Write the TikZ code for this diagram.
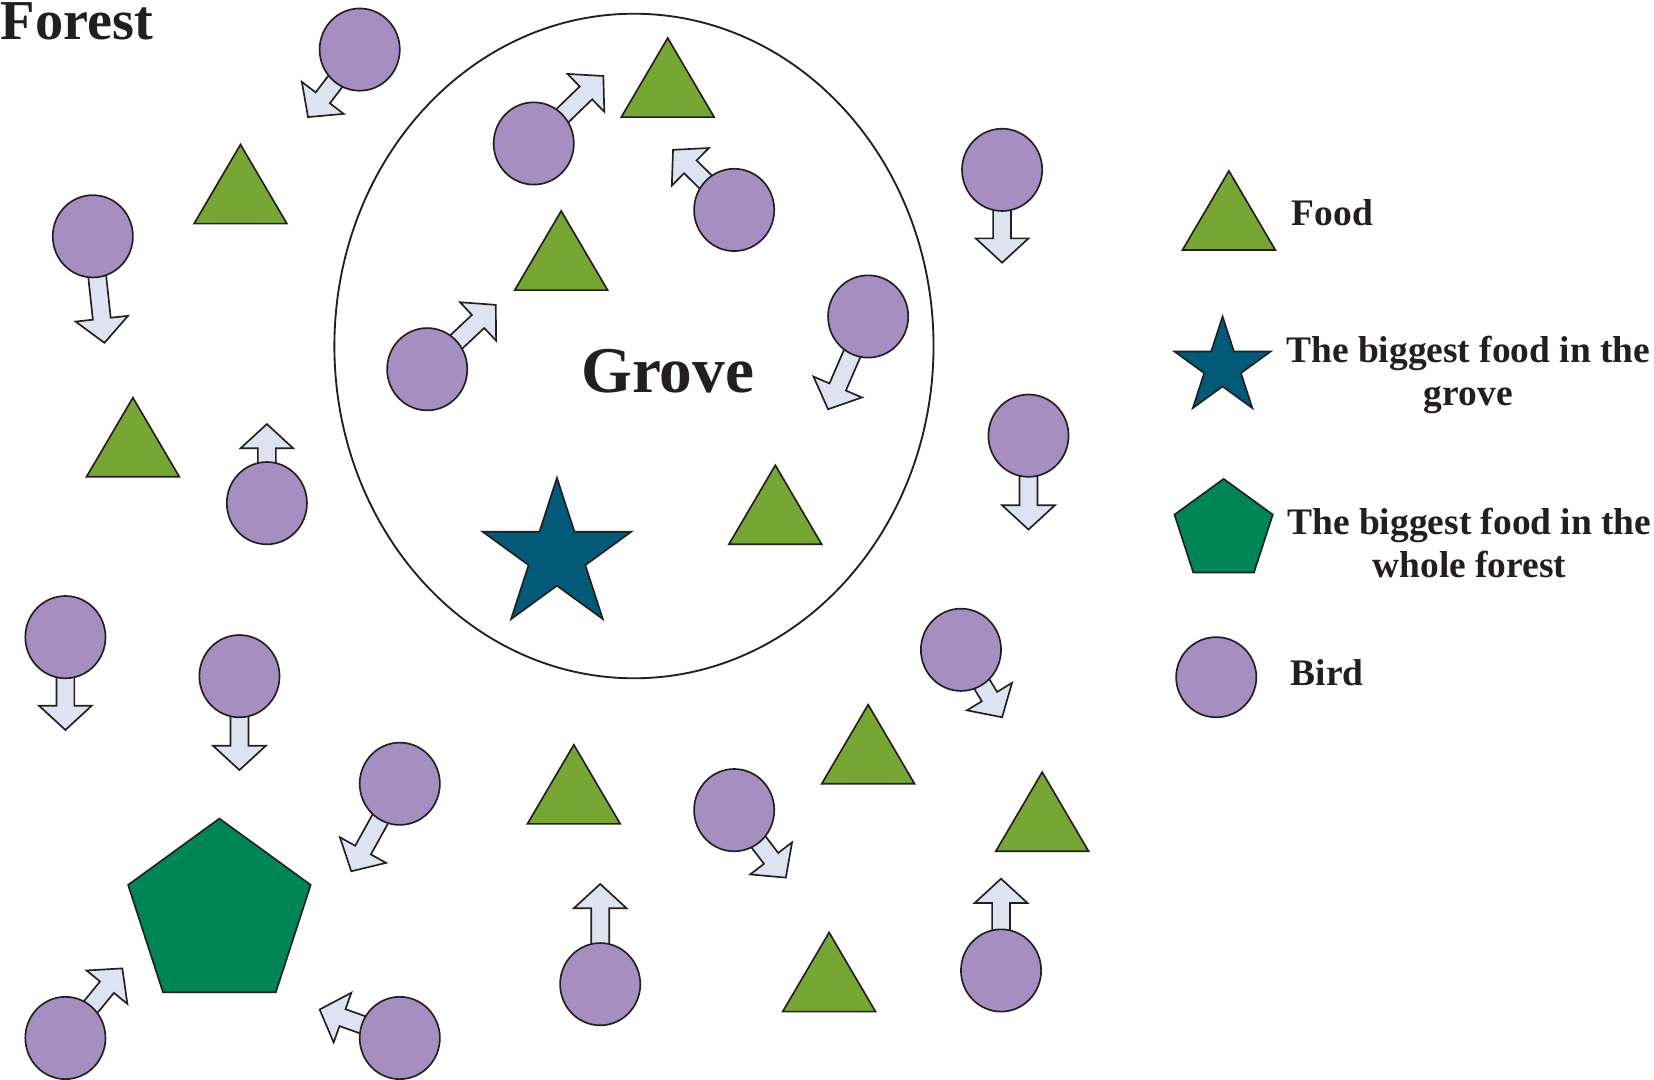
\documentclass[tikz,border=0pt]{standalone}
\usepackage{fontspec}
\setmainfont{Liberation Serif}
\tikzstyle{forest} = [x = 0.1mm, y = -0.1mm, line join = miter]
\definecolor{birdColor}{RGB}{165,142,192}
\definecolor{foodColor}{RGB}{120,166,53}
\definecolor{groveFoodColor}{RGB}{0,90,120}
\definecolor{forestFoodColor}{RGB}{0,133,86}
\definecolor{arrowColor}{RGB}{221,227,240}
\definecolor{outlineColor}{RGB}{35,31,32}
\tikzstyle{birdStyle} = [draw = outlineColor, fill = birdColor, line width = 0.45pt]
\tikzstyle{arrowStyle} = [draw = outlineColor, fill = arrowColor, line width = 0.45pt]
\tikzstyle{foodStyle} = [draw = outlineColor, fill = foodColor, line width = 0.45pt]
\tikzstyle{groveFoodStyle} = [draw = outlineColor, fill = groveFoodColor, line width = 0.45pt]
\tikzstyle{forestFoodStyle} = [draw = outlineColor, fill = forestFoodColor, line width = 0.45pt]
\tikzstyle{groveLine} = [draw = outlineColor, line width = 0.5pt]
\tikzstyle{labelText} = [font = \bfseries\fontsize{10.1}{11.6}\selectfont, text = outlineColor, inner sep = 0pt]
\tikzstyle{titleText} = [font = \bfseries\fontsize{15.2}{18}\selectfont, text = outlineColor, inner sep = 0pt]
\tikzstyle{groveText} = [font = \bfseries\fontsize{17.6}{21}\selectfont, text = outlineColor, inner sep = 0pt]
\newcommand{\shaftHalf}{8.5}
\newcommand{\headHalf}{25}
\newcommand{\headLength}{23}
% bird at (#1,#2), its arrow ends at (#3,#4)
\newcommand{\bird}[4]{
  \pgfmathsetmacro{\birdAngle}{atan2(#2 - #4, #3 - #1)}
  \pgfmathsetmacro{\birdLength}{veclen(#3 - #1, #4 - #2)}
  \pgfmathsetmacro{\headStart}{\birdLength - \headLength}
  \filldraw [arrowStyle, shift = {(#1,#2)}, rotate = \birdAngle] (0,-\shaftHalf) -- (\headStart,-\shaftHalf) -- (\headStart,-\headHalf) -- (\birdLength,0) -- (\headStart,\headHalf) -- (\headStart,\shaftHalf) -- (0,\shaftHalf) -- cycle;
  \filldraw [birdStyle] (#1,#2) ellipse [x radius = 38, y radius = 39];
}
\newcommand{\food}[2]{\filldraw [foodStyle] (#1,#2) -- (#1 + 44,#2 + 75) -- (#1 - 44,#2 + 75) -- cycle;}
\newcommand{\bigGroveFood}[3]{
  \pgfmathsetmacro{\innerRadius}{0.382 * #3}
  \filldraw [groveFoodStyle, shift = {(#1,#2)}] (-90:#3)
    \foreach \k in {0,...,4} { -- ({-90 + 72 * \k}:#3) -- ({-54 + 72 * \k}:\innerRadius) } -- cycle;
}
\newcommand{\bigForestFood}[3]{
  \filldraw [forestFoodStyle, shift = {(#1,#2)}] (-90:#3)
    \foreach \k in {1,...,4} { -- ({-90 + 72 * \k}:#3) } -- cycle;
}
\begin{document}
\begin{tikzpicture}[forest]
            \useasboundingbox (0,0) rectangle (1568,1023);
            \draw [groveLine] (601,328) ellipse [x radius = 284, y radius = 315];

            \food{633}{36}
            \food{228}{137}
            \food{532}{200}
            \food{126}{377}
            \food{735}{441}
            \food{823}{668}
            \food{544}{706}
            \food{988}{732}
            \food{786}{884}

            \bigGroveFood{528}{527}{74}
            \bigForestFood{208}{867}{91}

            \bird{341}{47}{292}{111}
            \bird{506}{136}{572}{72}
            \bird{696}{199}{638}{142}
            \bird{950}{161}{950}{249}
            \bird{88}{224}{99}{325}
            \bird{823}{300}{785}{388}
            \bird{405}{350}{470}{289}
            \bird{253}{477}{253}{402}
            \bird{975}{413}{975}{502}
            \bird{62}{604}{62}{692}
            \bird{227}{641}{227}{730}
            \bird{911}{616}{950}{680}
            \bird{379}{743}{333}{826}
            \bird{696}{768}{745}{832}
            \bird{569}{933}{569}{838}
            \bird{949}{920}{949}{833}
            \bird{62}{984}{116}{918}
            \bird{379}{984}{303}{957}

            \node [titleText, anchor = base west] (forestLabel) at (0,37) {Forest};
            \node [groveText, anchor = base] (groveLabel) at (633,372) {Grove};

            % legend
            \food{1165}{162}
            \bigGroveFood{1159}{348}{48}
            \bigForestFood{1160}{503}{49}
            \filldraw [birdStyle] (1153,642) ellipse [x radius = 38, y radius = 38];
            \node [labelText, anchor = base west] (foodLabel) at (1224,214) {Food};
            \node [labelText, anchor = north, align = center] (groveFoodLabel) at (1392,318) {The biggest food in the\\grove};
            \node [labelText, anchor = north, align = center] (forestFoodLabel) at (1393,481) {The biggest food in the\\whole forest};
            \node [labelText, anchor = base west] (birdLabel) at (1223,650) {Bird};
          \end{tikzpicture}
\end{document}
